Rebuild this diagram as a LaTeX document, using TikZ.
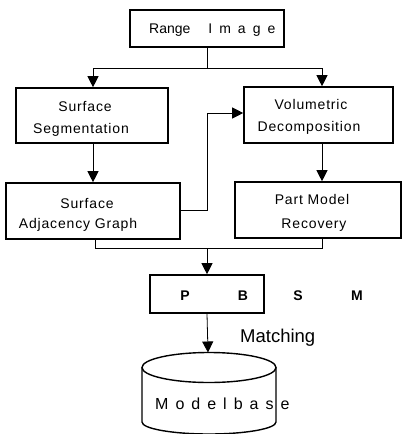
\documentclass[tikz,border=0pt]{standalone}
\usepackage{fontspec}
\setmainfont{Liberation Sans}
\newfontfamily\boxfont[LetterSpace=6]{Liberation Sans}
\usetikzlibrary{arrows.meta}
\tikzset{
  box/.style={draw, line width=1.6pt, inner sep=0pt},
  lbl/.style={anchor=base, inner sep=0pt, font=\boxfont\fontsize{14}{16}\selectfont},
  ltr/.style={anchor=base, inner sep=0pt, font=\fontsize{14}{16}\selectfont\bfseries},
  conn/.style={line width=0.8pt},
  arr/.style={line width=0.8pt, -{Triangle[length=11pt,width=11pt]}},
  cyl/.style={line width=1.4pt}
}
\begin{document}
\begin{tikzpicture}[x=1pt,y=-1pt]
\useasboundingbox (0,0) rectangle (405,434);
\fill[white] (0,0) rectangle (405,434);
% boxes
\node[box, minimum width=154pt, minimum height=37pt] (ri) at (207,28.5) {};
\node[box, minimum width=152pt, minimum height=55pt] (ss) at (92,115.5) {};
\node[box, minimum width=149pt, minimum height=56pt] (vd) at (318.5,115) {};
\node[box, minimum width=174pt, minimum height=56pt] (sag) at (93,211) {};
\node[box, minimum width=166pt, minimum height=56pt] (pmr) at (318,210) {};
\node[box, minimum width=114pt, minimum height=38pt] (pb) at (207,294) {};
% texts
\node[anchor=base west, inner sep=0pt, font=\fontsize{14}{16}\selectfont] (riT) at (149,33)
  {Range\hspace{18pt}I\hspace{7pt}m\hspace{7pt}a\hspace{7pt}g\hspace{7pt}e};
\node[lbl] (ss1) at (85,111) {Surface};
\node[lbl] (ss2) at (81,133) {Segmentation};
\node[lbl] (vd1) at (311,109) {Volumetric};
\node[lbl] (vd2) at (309,131) {Decomposition};
\node[lbl] (sag1) at (87,208) {Surface};
\node[lbl] (sag2) at (78,228) {Adjacency Graph};
\node[lbl] (pm1) at (312,204) {Part Model};
\node[lbl] (pm2) at (314,228) {Recovery};
\node[ltr] (lp) at (185,300) {P};
\node[ltr] (lb) at (243,300) {B};
\node[ltr] (ls) at (298,300) {S};
\node[ltr] (lm) at (357,300) {M};
\node[anchor=base west, inner sep=0pt, font=\fontsize{18.5}{21}\selectfont] (mt) at (240,342) {Matching};
% cylinder
\draw[cyl] (209,367.5) ellipse [x radius=67pt, y radius=15pt];
\draw[cyl] (142,367.5) -- (142,422) arc[start angle=180, end angle=360, x radius=67pt, y radius=12pt] -- (276,367.5);
\coordinate (db) at (208,352.5);
\node[anchor=base west, inner sep=0pt, font=\fontsize{16}{18}\selectfont] (mb) at (155,409)
  {M\hspace{7pt}o\hspace{7pt}d\hspace{7pt}e\hspace{7pt}l\hspace{7pt}b\hspace{7pt}a\hspace{7pt}s\hspace{7pt}e};
% connectors
\coordinate (j1) at (207,68);
\coordinate (jl) at (93,68);
\coordinate (jr) at (322,68);
\draw[conn] (ri.south -| j1) -- (j1);
\draw[arr] (j1) -- (jl) -- (jl |- ss.north);
\draw[arr] (j1) -- (jr) -- (jr |- vd.north);
\draw[arr] (jl |- ss.south) -- (jl |- sag.north);
\coordinate (j2) at (207,210);
\coordinate (j3) at (207,113);
\draw[arr] (sag.east |- j2) -- (j2) -- (j3) -- (vd.west |- j3);
\draw[arr] (jr |- vd.south) -- (jr |- pmr.north);
\coordinate (jb) at (207,248);
\coordinate (jbl) at (95,248);
\coordinate (jbr) at (322,248);
\draw[conn] (jbl |- sag.south) -- (jbl) -- (jbr) -- (jbr |- pmr.south);
\draw[arr] (jb) -- (jb |- pb.north);
\draw[arr] (jb |- pb.south) -- (db);
\end{tikzpicture}
\end{document}
